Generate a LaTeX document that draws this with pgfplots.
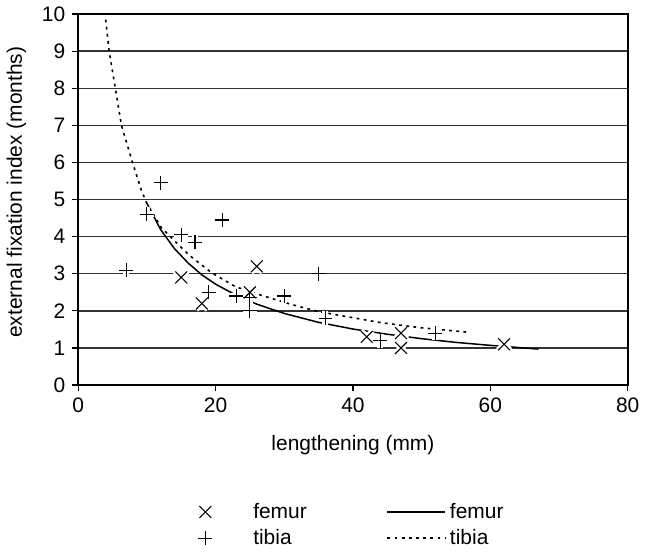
\documentclass[border=0pt]{standalone}
\usepackage{fontspec}
\setmainfont{Liberation Sans}
\usepackage{pgfplots}
\pgfplotsset{compat=1.18}
\pgfplotsset{
  marklegend/.style={legend image code/.code={\path[draw=none] (-3pt,0pt) -- (22pt,0pt); \draw[##1] plot[only marks] coordinates {(0pt,0pt)};}},
  linelegend/.style={legend image code/.code={\draw[##1] (0pt,0pt) -- (29pt,0pt);}},
}

% femur / tibia scatter
\pgfplotstableread{
x y
15 2.9
18 2.2
25 2.5
26 3.2
42 1.3
47 1.4
47 1.0
62 1.1
}\femur
\pgfplotstableread{
x y
7 3.1
10 4.6
12 5.45
15 4.05
17 3.85
21 4.45
19 2.5
23 2.4
25 2.0
25 2.35
30 2.4
35 3.0
36 1.8
44 1.2
52 1.4
}\tibia

\begin{document}
\begin{tikzpicture}[font=\fontsize{10.5}{12}\selectfont]
\begin{axis}[
  width=275.5pt, height=186pt, scale only axis,
  xmin=0, xmax=80, ymin=0, ymax=10,
  xtick={0,20,...,80}, ytick={0,1,...,10},
  tick align=outside, major tick length=3pt,
  x tick style={black, line width=0.6pt}, y tick style={black, line width=0.6pt},
  xtick pos=bottom, ytick pos=left,
  axis line style={black, line width=0.9pt},
  ymajorgrids, grid style={black!80, line width=0.7pt},
  /pgf/number format/assume math mode=true,
  ticklabel style={font=\fontsize{10.5}{12}\selectfont},
  xlabel={lengthening (mm)}, ylabel={external fixation index (months)},
  xlabel style={at={(axis description cs:0.5,-0.161)}, anchor=center},
  ylabel style={at={(axis description cs:-0.1125,0.52)}, anchor=center},
  legend columns=2, transpose legend,
  legend style={draw=none, at={(0.5,-0.295)}, anchor=north, row sep=0pt,
    /tikz/column 2/.style={column sep=38pt},
    font=\fontsize{10.5}{12}\selectfont},
  legend cell align=left,
]
% white halos behind the markers
\addplot[forget plot, only marks, mark=x, mark size=4.2pt, draw=white, line width=3pt] table {\femur};
\addplot[forget plot, only marks, mark=+, mark size=3.5pt, draw=white, line width=3pt] table {\tibia};

\addplot[only marks, mark=x, mark size=4.2pt, black, line width=0.55pt, marklegend] table {\femur};
\addlegendentry{femur}
\addplot[only marks, mark=+, mark size=3.5pt, black, line width=0.55pt, marklegend] table {\tibia};
\addlegendentry{tibia}

% power trend lines
\addplot[black, line width=0.75pt, no marks, linelegend] coordinates {
 (10,4.90)(12,4.19)(14,3.68)(16,3.29)(18,2.97)(20,2.72)(23,2.42)(26,2.18)
 (30,1.93)(35,1.69)(40,1.51)(45,1.37)(50,1.25)(55,1.15)(60,1.07)(67,0.97)};
\addlegendentry{femur}
\addplot[black, line width=0.8pt, no marks, dash pattern=on 1.4pt off 2.2pt, linelegend] coordinates {
 (4,9.85)(4.5,9.0)(5.4,8.0)(6.3,7.0)(7.9,6.0)(9.2,5.25)(9.9,4.93)(12.1,4.24)
 (16.1,3.51)(19.4,3.03)(22.9,2.65)(26.3,2.44)(31.1,2.17)(35,1.98)(43.8,1.69)
 (49.6,1.55)(57,1.42)};
\addlegendentry{tibia}
\end{axis}
\end{tikzpicture}
\end{document}
